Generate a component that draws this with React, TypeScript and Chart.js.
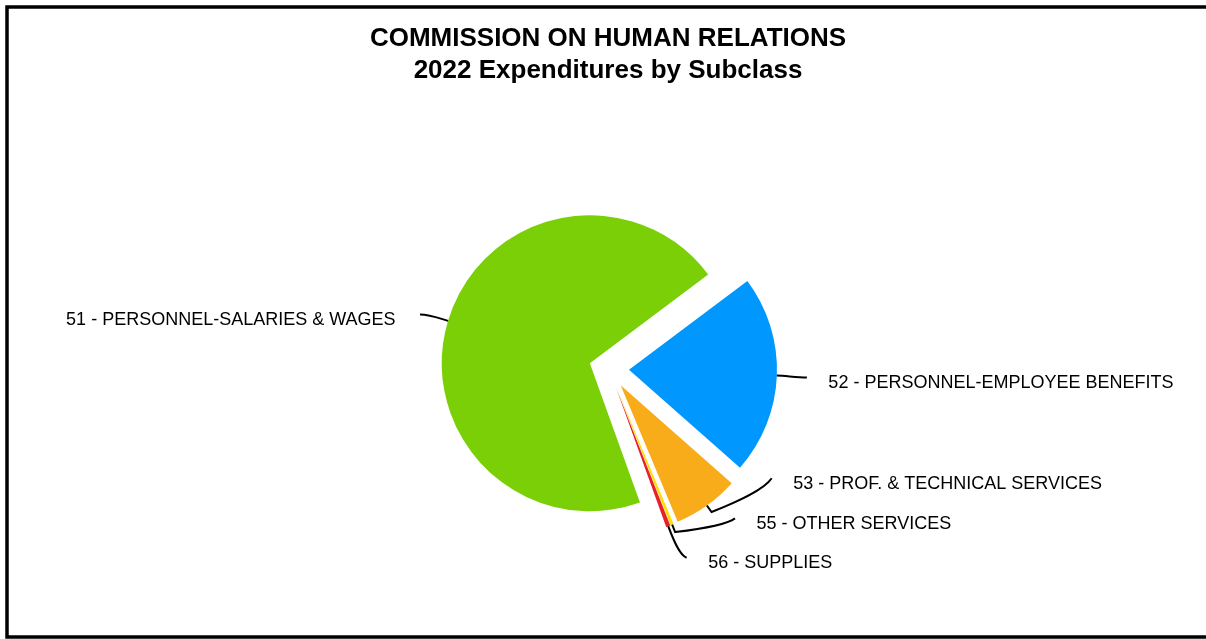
import React, { useEffect, useRef } from "react";
import { Chart, registerables } from "chart.js";

Chart.register(...registerables);

// ---------- data ----------
const titleLines = ["COMMISSION ON HUMAN RELATIONS", "2022 Expenditures by Subclass"];
const subclassLabels = [
  "51 - PERSONNEL-SALARIES & WAGES",
  "52 - PERSONNEL-EMPLOYEE BENEFITS",
  "53 - PROF. & TECHNICAL SERVICES",
  "55 - OTHER SERVICES",
  "56 - SUPPLIES",
];
const expenditures = [2810000, 870000, 288000, 13200, 18800];

// ---------- styles / layout ----------
const sliceColors = ["#7BCF07", "#0098FF", "#F9AC1A", "#FFE000", "#E8202A"];
const START_DEG = 160.2;
const EXPLODE_PX = 20;
const FONT = '"Liberation Sans", Arial, Helvetica, sans-serif';
// leader line geometry, relative to the slice's outer mid point
const leaderEnd = [[-28, -6.4], [30, 2], [64.8, -27.3], [62.8, -6.3], [18.4, 31.5]];
const leaderTick = [0, 0, 8, 8, 0];
const leaderH1 = [[-9.6, -2.9], [10, 0.4], [25, -10], [25, -3], [4.9, 13.1]];
const leaderH2 = [[10, 0], [-10, 0], [-8, 12], [-8, 6], [-7, -2]];

const explodePlugin = {
  id: "explodeSlices",
  beforeDatasetDraw(chart: any, args: any) {
    const ctx = chart.ctx;
    args.meta.data.forEach((arc: any) => {
      const mid = (arc.startAngle + arc.endAngle) / 2;
      ctx.save();
      ctx.translate(Math.cos(mid) * EXPLODE_PX, Math.sin(mid) * EXPLODE_PX);
      arc.draw(ctx);
      ctx.restore();
    });
    return false;
  },
};

const decorPlugin = {
  id: "decor",
  afterDraw(chart: any) {
    const ctx = chart.ctx;
    const w = chart.width;
    const h = chart.height;
    ctx.save();
    // frame
    ctx.strokeStyle = "#000";
    ctx.lineWidth = 3.5;
    ctx.strokeRect(7, 7, w + 10, h - 9);
    // title
    ctx.fillStyle = "#000";
    ctx.font = `bold 26px ${FONT}`;
    ctx.textAlign = "center";
    ctx.textBaseline = "alphabetic";
    ctx.fillText(titleLines[0], 608, 46);
    ctx.fillText(titleLines[1], 608, 78);

    // leaders + labels
    const meta = chart.getDatasetMeta(0);
    ctx.font = `18px ${FONT}`;
    ctx.lineWidth = 2;
    ctx.strokeStyle = "#000";
    meta.data.forEach((arc: any, i: number) => {
      const mid = (arc.startAngle + arc.endAngle) / 2;
      const dx = Math.cos(mid);
      const dy = Math.sin(mid);
      const r = arc.outerRadius + EXPLODE_PX;
      const p0x = arc.x + dx * r;
      const p0y = arc.y + dy * r;
      const p1x = p0x + dx * leaderTick[i];
      const p1y = p0y + dy * leaderTick[i];
      const ex = p0x + leaderEnd[i][0];
      const ey = p0y + leaderEnd[i][1];
      ctx.beginPath();
      ctx.moveTo(p0x, p0y);
      ctx.lineTo(p1x, p1y);
      ctx.bezierCurveTo(
        p1x + leaderH1[i][0], p1y + leaderH1[i][1],
        ex + leaderH2[i][0], ey + leaderH2[i][1],
        ex, ey
      );
      ctx.stroke();
      const left = ex < arc.x;
      ctx.textAlign = left ? "right" : "left";
      ctx.fillStyle = "#000";
      ctx.fillText(subclassLabels[i], left ? ex - 24.5 : ex + 21.5, ey + 10.5);
    });
    ctx.restore();
  },
};

export default function App() {
  const canvasRef = useRef<HTMLCanvasElement | null>(null);

  useEffect(() => {
    const canvas = canvasRef.current;
    if (!canvas) return;
    const chart = new Chart(canvas, {
      type: "pie",
      data: {
        labels: subclassLabels,
        datasets: [
          {
            data: expenditures,
            backgroundColor: sliceColors,
            borderWidth: 0,
          },
        ],
      },
      options: {
        responsive: false,
        animation: false,
        events: [],
        rotation: START_DEG,
        layout: { padding: { top: 221, bottom: 122, left: 300, right: 288 } },
        plugins: {
          legend: { display: false },
          tooltip: { enabled: false },
          title: { display: false },
        },
      } as any,
      plugins: [explodePlugin, decorPlugin],
    });
    return () => chart.destroy();
  }, []);

  return (
    <div style={{ position: "absolute", left: 0, top: 0, width: 1206, height: 639, background: "#fff", overflow: "hidden" }}>
      <canvas ref={canvasRef} width={1206} height={639} style={{ display: "block" }} />
    </div>
  );
}
